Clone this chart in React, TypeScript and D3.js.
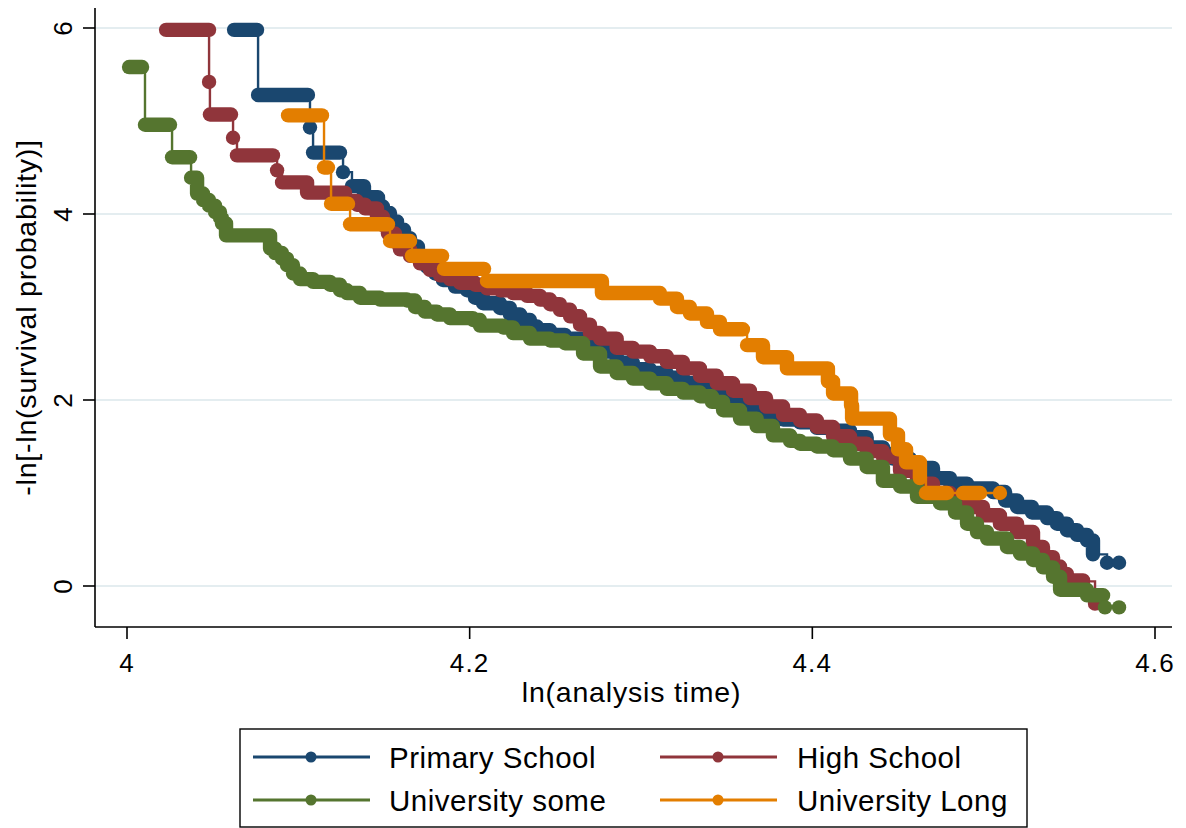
import React from "react";
import * as d3 from "d3";

type Pt = [number, number];

// ln(analysis time) vs -ln[-ln(S(t))], one list of marker runs per education level.
// Each inner array is a run of touching markers; runs are joined by a stair-step line.
const primarySchool: Pt[][] = [
  [[4.0625, 5.98], [4.0759, 5.98]],
  [[4.0765, 5.28], [4.1056, 5.28]],
  [[4.1068, 4.93]],
  [[4.1086, 4.66], [4.1243, 4.66]],
  [[4.1261, 4.45]],
  [
    [4.1313, 4.3], [4.136, 4.3], [4.1383, 4.18], [4.1442, 4.18], [4.1465, 4.08], [4.1494, 4.01],
    [4.1535, 3.92], [4.1576, 3.83], [4.1617, 3.74], [4.1652, 3.65], [4.1698, 3.54], [4.1751, 3.43],
    [4.1798, 3.36], [4.1844, 3.29], [4.1914, 3.22], [4.1984, 3.18], [4.2031, 3.1], [4.2078, 3.04],
    [4.2177, 2.99], [4.2235, 2.92], [4.2294, 2.86], [4.2352, 2.79], [4.2393, 2.75], [4.2469, 2.7],
    [4.2556, 2.66], [4.2662, 2.61], [4.2761, 2.52], [4.2858, 2.4], [4.2953, 2.33], [4.3053, 2.29],
    [4.315, 2.24], [4.3245, 2.18], [4.3344, 2.14], [4.3442, 2.09], [4.3537, 2.01], [4.3636, 1.93],
    [4.373, 1.86], [4.3829, 1.79], [4.3928, 1.76], [4.4026, 1.7], [4.4121, 1.67], [4.422, 1.6],
    [4.4317, 1.49], [4.4412, 1.42], [4.4471, 1.37], [4.457, 1.27], [4.4704, 1.16], [4.4804, 1.1],
    [4.4903, 1.05], [4.5055, 1.01], [4.5125, 0.92], [4.5195, 0.85], [4.5282, 0.79], [4.537, 0.73],
    [4.5428, 0.67], [4.5486, 0.6], [4.5545, 0.55], [4.5603, 0.49], [4.5638, 0.34],
  ],
  [[4.572, 0.25]],
  [[4.579, 0.25]],
];

const highSchool: Pt[][] = [
  [[4.0228, 5.98], [4.0479, 5.98]],
  [[4.0479, 5.42]],
  [[4.0484, 5.07], [4.0607, 5.07]],
  [[4.0619, 4.82]],
  [[4.0642, 4.63], [4.0852, 4.63]],
  [[4.0876, 4.47]],
  [
    [4.0905, 4.34], [4.1045, 4.34], [4.1051, 4.23], [4.1214, 4.23], [4.1272, 4.14], [4.1342, 4.1],
    [4.1389, 4.06], [4.1459, 3.97], [4.1494, 3.88], [4.1523, 3.79], [4.1564, 3.7], [4.1593, 3.62],
    [4.1652, 3.55], [4.171, 3.47], [4.1768, 3.4], [4.1827, 3.34], [4.1885, 3.3], [4.1944, 3.26],
    [4.2031, 3.24], [4.2101, 3.2], [4.2177, 3.18], [4.2253, 3.15], [4.2335, 3.12], [4.2411, 3.08],
    [4.2469, 3.03], [4.2527, 2.97], [4.2586, 2.9], [4.2644, 2.81], [4.2702, 2.72], [4.2761, 2.66],
    [4.2858, 2.56], [4.2953, 2.52], [4.3053, 2.47], [4.315, 2.41], [4.3245, 2.34], [4.3344, 2.26],
    [4.3442, 2.18], [4.3537, 2.1], [4.3636, 2.02], [4.373, 1.93], [4.3829, 1.84], [4.3928, 1.78],
    [4.4026, 1.71], [4.4121, 1.61], [4.422, 1.53], [4.4317, 1.45], [4.4412, 1.39], [4.4512, 1.24],
    [4.4611, 1.1], [4.4704, 1.0], [4.4804, 0.93], [4.4903, 0.85], [4.4996, 0.76], [4.5095, 0.67],
    [4.5195, 0.58], [4.5288, 0.42], [4.5346, 0.31], [4.5405, 0.21], [4.5446, 0.13], [4.5486, 0.06],
    [4.558, 0.05],
  ],
  [[4.565, -0.19]],
];

const universitySome: Pt[][] = [
  [[4.0012, 5.58], [4.0088, 5.58]],
  [[4.0105, 4.96], [4.0251, 4.96]],
  [[4.0263, 4.61], [4.0368, 4.61]],
  [
    [4.0374, 4.39], [4.0409, 4.22], [4.0444, 4.15], [4.0479, 4.09], [4.0514, 4.02], [4.0543, 3.96],
    [4.0554, 3.9], [4.0578, 3.77], [4.0794, 3.77], [4.0835, 3.63], [4.0864, 3.58], [4.0905, 3.52],
    [4.0934, 3.45], [4.0969, 3.36], [4.101, 3.3], [4.1086, 3.27], [4.1185, 3.24], [4.1243, 3.18],
    [4.1284, 3.15], [4.136, 3.1], [4.1477, 3.08], [4.1634, 3.07], [4.1681, 3.0], [4.1739, 2.95],
    [4.1809, 2.92], [4.1885, 2.88], [4.2019, 2.86], [4.206, 2.8], [4.2195, 2.78], [4.2253, 2.72],
    [4.2352, 2.66], [4.2469, 2.64], [4.2556, 2.61], [4.2662, 2.5], [4.2761, 2.36], [4.2858, 2.29],
    [4.2953, 2.23], [4.3053, 2.18], [4.315, 2.12], [4.3245, 2.08], [4.3344, 2.04], [4.3414, 1.98],
    [4.3479, 1.89], [4.3578, 1.8], [4.3675, 1.72], [4.377, 1.62], [4.387, 1.56], [4.3928, 1.53],
    [4.4026, 1.5], [4.4121, 1.46], [4.422, 1.37], [4.4317, 1.28], [4.4412, 1.13], [4.4512, 1.07],
    [4.4611, 0.96], [4.4745, 0.89], [4.4833, 0.79], [4.4903, 0.67], [4.4961, 0.58], [4.502, 0.51],
    [4.5136, 0.42], [4.5212, 0.35], [4.5288, 0.28], [4.5346, 0.2], [4.5405, 0.1], [4.5446, -0.04],
    [4.558, -0.04], [4.5603, -0.1], [4.5697, -0.1],
  ],
  [[4.5708, -0.23]],
  [[4.579, -0.23]],
];

const universityLong: Pt[][] = [
  [[4.094, 5.06], [4.1138, 5.06]],
  [[4.115, 4.5], [4.1173, 4.5]],
  [[4.1191, 4.11], [4.129, 4.11]],
  [[4.1302, 3.89], [4.1523, 3.89]],
  [[4.1535, 3.71], [4.1652, 3.71]],
  [[4.1663, 3.55], [4.1839, 3.55]],
  [[4.185, 3.41], [4.2084, 3.41]],
  [
    [4.2101, 3.28], [4.2761, 3.28], [4.2772, 3.15], [4.3035, 3.15], [4.3111, 3.09], [4.321, 3.0],
    [4.3286, 2.93], [4.3385, 2.84], [4.3461, 2.76], [4.3595, 2.76],
  ],
  [
    [4.3619, 2.59], [4.3712, 2.59], [4.3712, 2.46], [4.3852, 2.46], [4.3852, 2.34], [4.4086, 2.34],
    [4.4091, 2.2], [4.4121, 2.07], [4.422, 2.07], [4.4226, 1.94], [4.4232, 1.8], [4.4407, 1.8],
    [4.4453, 1.63], [4.45, 1.47], [4.4547, 1.33], [4.4611, 1.33], [4.4628, 1.16],
  ],
  [[4.4663, 1.0], [4.4786, 1.0]],
  [[4.4879, 1.0], [4.4979, 1.0]],
  [[4.5095, 1.0]],
];

const seriesNames = ["Primary School", "High School", "University some", "University Long"];
const seriesColors = ["#1a476f", "#90353b", "#55752f", "#e37e00"];
const seriesData = [primarySchool, highSchool, universitySome, universityLong];

const xTicks = [4, 4.2, 4.4, 4.6];
const yTicks = [0, 2, 4, 6];
const xTitle = "ln(analysis time)";
const yTitle = "-ln[-ln(survival probability)]";

const W = 1186;
const H = 828;
const plot = { left: 95, right: 1172, top: 8, bottom: 627 };
const FONT = "'Liberation Sans', Arial, Helvetica, sans-serif";
const R = 7.2;

export default function App() {
  const x = d3.scaleLinear().domain([4, 4.6]).range([127, 1155]);
  const y = d3.scaleLinear().domain([0, 6]).range([586, 28]);

  // marker runs follow the same stair-step as the connector, giving the bumpy bands
  const stairs = d3
    .line<Pt>()
    .x((d) => x(d[0]))
    .y((d) => y(d[1]))
    .curve(d3.curveStepAfter);

  const legendRows = [
    { col: 0, row: 0, i: 0 },
    { col: 1, row: 0, i: 1 },
    { col: 0, row: 1, i: 2 },
    { col: 1, row: 1, i: 3 },
  ];
  const legendCols = [
    { lineX0: 253, lineX1: 370, markX: 311, textX: 389 },
    { lineX0: 660, lineX1: 777, markX: 718, textX: 797 },
  ];
  const legendRowY = [757, 800];

  return (
    <svg
      width={W}
      height={H}
      viewBox={`0 0 ${W} ${H}`}
      style={{ position: "absolute", left: 0, top: 0, background: "#ffffff" }}
    >
      <rect x={0} y={0} width={W} height={H} fill="#ffffff" />

      {/* horizontal grid */}
      {yTicks.map((t) => (
        <line
          key={`g${t}`}
          x1={plot.left}
          x2={plot.right}
          y1={y(t)}
          y2={y(t)}
          stroke="#e4edf0"
          strokeWidth={2}
        />
      ))}

      {/* series: stair-step connector, then marker runs */}
      {seriesData.map((groups, si) => {
        const color = seriesColors[si];
        const all = groups.flat();
        return (
          <g key={seriesNames[si]}>
            <path d={stairs(all) ?? ""} fill="none" stroke={color} strokeWidth={2.4} />
            {groups.map((g, gi) =>
              g.length > 1 ? (
                <path
                  key={gi}
                  d={stairs(g) ?? ""}
                  fill="none"
                  stroke={color}
                  strokeWidth={R * 2}
                  strokeLinecap="round"
                  strokeLinejoin="round"
                />
              ) : (
                <circle key={gi} cx={x(g[0][0])} cy={y(g[0][1])} r={R} fill={color} />
              )
            )}
          </g>
        );
      })}

      {/* y axis */}
      <line x1={plot.left} x2={plot.left} y1={plot.top} y2={plot.bottom} stroke="#000" strokeWidth={1.6} />
      {yTicks.map((t) => (
        <g key={`y${t}`}>
          <line x1={plot.left - 12} x2={plot.left} y1={y(t)} y2={y(t)} stroke="#000" strokeWidth={1.6} />
          <text
            transform={`translate(72, ${y(t)}) rotate(-90)`}
            textAnchor="middle"
            fontFamily={FONT}
            fontSize={26}
            letterSpacing={1.2}
            fill="#000"
          >
            {t}
          </text>
        </g>
      ))}
      <text
        transform={`translate(36, ${(plot.top + plot.bottom) / 2}) rotate(-90)`}
        textAnchor="middle"
        fontFamily={FONT}
        fontSize={28.5}
        letterSpacing={0.8}
        fill="#000"
      >
        {yTitle}
      </text>

      {/* x axis */}
      <line x1={plot.left} x2={plot.right} y1={plot.bottom} y2={plot.bottom} stroke="#000" strokeWidth={1.6} />
      {xTicks.map((t) => (
        <g key={`x${t}`}>
          <line x1={x(t)} x2={x(t)} y1={plot.bottom} y2={plot.bottom + 12} stroke="#000" strokeWidth={1.6} />
          <text
            x={x(t)}
            y={672}
            textAnchor="middle"
            fontFamily={FONT}
            fontSize={26}
            letterSpacing={1.2}
            fill="#000"
          >
            {t}
          </text>
        </g>
      ))}
      <text
        x={(plot.left + plot.right) / 2 - 2}
        y={702}
        textAnchor="middle"
        fontFamily={FONT}
        fontSize={28.5}
        letterSpacing={0.8}
        fill="#000"
      >
        {xTitle}
      </text>

      {/* legend */}
      <rect x={240} y={729} width={787} height={98} fill="#ffffff" stroke="#000" strokeWidth={1.4} />
      {legendRows.map(({ col, row, i }) => {
        const c = legendCols[col];
        const ly = legendRowY[row];
        return (
          <g key={seriesNames[i]}>
            <line x1={c.lineX0} x2={c.lineX1} y1={ly} y2={ly} stroke={seriesColors[i]} strokeWidth={3} />
            <circle cx={c.markX} cy={ly} r={5.5} fill={seriesColors[i]} />
            <text
              x={c.textX}
              y={ly + 11}
              fontFamily={FONT}
              fontSize={29.5}
              letterSpacing={0.5}
              fill="#000"
            >
              {seriesNames[i]}
            </text>
          </g>
        );
      })}
    </svg>
  );
}
